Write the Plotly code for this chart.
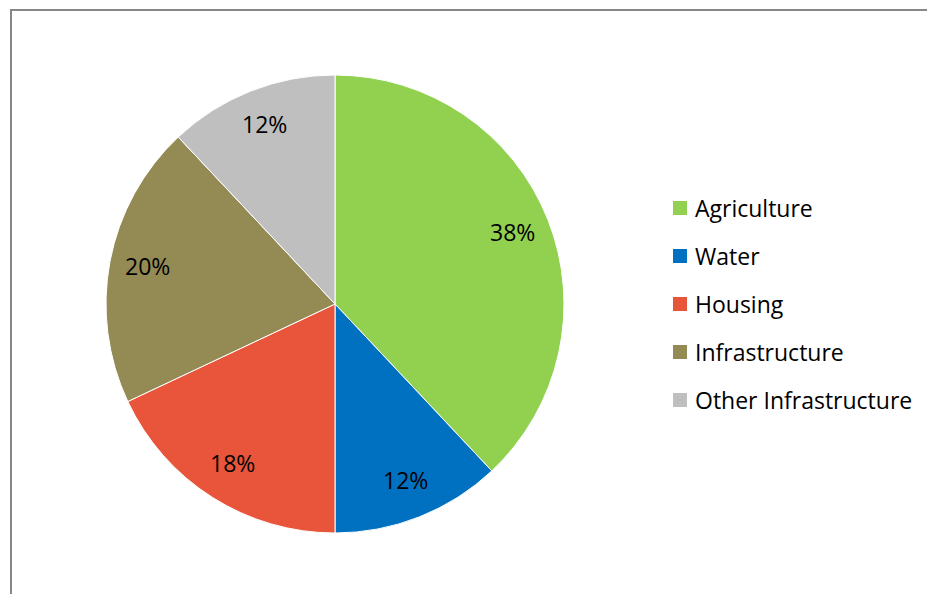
import math
import plotly.graph_objects as go

# Share of funding by sector
categories = ["Agriculture", "Water", "Housing", "Infrastructure", "Other Infrastructure"]
shares = [38, 12, 18, 20, 12]
colors = ["#92D050", "#0070C0", "#E9553A", "#948A54", "#BFBFBF"]

W, H = 927, 594
FONT = "Open Sans"

# Pie placement in pixels (centre and radius)
cx, cy, R = 335, 304, 229

def px(x):
    return x / W

def py(y):
    return 1 - y / H

fig = go.Figure(
    go.Pie(
        labels=categories,
        values=shares,
        sort=False,
        direction="clockwise",
        rotation=0,
        marker=dict(colors=colors, line=dict(color="white", width=1)),
        textinfo="none",
        hoverinfo="label+percent",
        showlegend=False,
        domain=dict(x=[px(cx - R), px(cx + R)], y=[py(cy + R), py(cy - R)]),
    )
)

annotations = []
shapes = []

# Percentage labels placed along each slice's bisector
total = sum(shares)
cum = 0
for v in shares:
    mid = (cum + v / 2) / total * 2 * math.pi
    cum += v
    r = 0.835 * R
    lx = cx + r * math.sin(mid)
    ly = cy - r * math.cos(mid)
    annotations.append(dict(
        x=px(lx), y=py(ly), xref="paper", yref="paper",
        text=f"{round(v / total * 100)}%", showarrow=False,
        font=dict(family=FONT, size=23, color="black"),
        xanchor="center", yanchor="middle", yshift=2,
    ))

# Legend: coloured squares with category names
leg_x, leg_y0, leg_dy, sq = 673, 208, 48, 14
for i, (name, c) in enumerate(zip(categories, colors)):
    yy = leg_y0 + i * leg_dy
    shapes.append(dict(
        type="rect", xref="paper", yref="paper",
        x0=px(leg_x), x1=px(leg_x + sq), y0=py(yy + sq / 2), y1=py(yy - sq / 2),
        fillcolor=c, line=dict(width=0),
    ))
    annotations.append(dict(
        x=px(leg_x + sq + 6), y=py(yy), xref="paper", yref="paper",
        text=name, showarrow=False, xanchor="left", yanchor="middle",
        font=dict(family=FONT, size=23, color="black"),
    ))

# Chart-area frame
shapes.append(dict(
    type="rect", xref="paper", yref="paper",
    x0=px(11), x1=px(W + 20), y0=py(H + 20), y1=py(10),
    line=dict(color="#878787", width=2), fillcolor="rgba(0,0,0,0)",
))

fig.update_layout(
    width=W, height=H,
    margin=dict(l=0, r=0, t=0, b=0),
    paper_bgcolor="white",
    plot_bgcolor="white",
    annotations=annotations,
    shapes=shapes,
)

fig.write_html("out.html")
